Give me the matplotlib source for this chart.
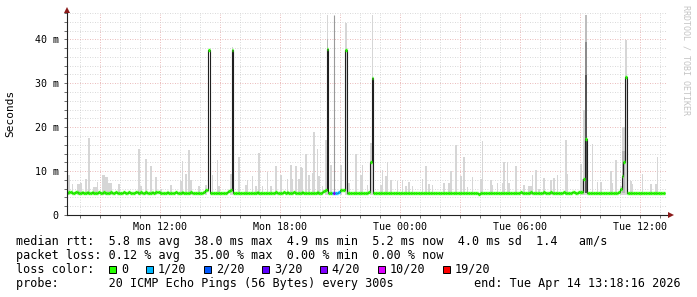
import matplotlib
matplotlib.use("Agg")
import matplotlib.pyplot as plt
from matplotlib.patches import Rectangle
from matplotlib.ticker import MultipleLocator, FixedLocator, FuncFormatter
import numpy as np

# 5 minute steps, time axis in hours counted from Monday 00:00
start_hour = 7 + 20 / 60
step_hours = 5 / 60

# median rtt per step (ms)
median_ms = [
    5.1, 5.2, 5.2, 5.1, 5.0, 5.2, 5.2, 5.1, 5.1, 5.2, 5.0, 5.1,
    5.2, 5.1, 5.1, 5.2, 5.0, 4.9, 5.1, 5.2, 5.1, 5.1, 5.2, 5.1,
    5.1, 5.0, 5.2, 5.1, 5.1, 5.2, 5.1, 5.1, 5.0, 5.1, 5.2, 5.1,
    5.1, 5.2, 5.0, 5.1, 5.1, 5.2, 5.2, 5.1, 5.3, 5.1, 5.1, 5.2,
    5.1, 5.0, 5.1, 5.2, 5.1, 5.3, 5.3, 5.2, 5.1, 5.1, 5.0, 5.1,
    5.2, 5.1, 5.1, 5.0, 5.1, 5.2, 5.1, 5.0, 5.1, 5.2, 5.1, 5.1,
    5.0, 5.1, 5.2, 5.1, 5.1, 5.0, 4.9, 4.9, 5.0, 5.1, 5.3, 5.6,
    5.8, 37.6, 5.1, 5.0, 4.9, 5.0, 5.0, 5.1, 5.0, 5.0, 5.0, 5.1,
    5.2, 5.5, 5.8, 37.6, 5.0, 5.0, 5.1, 5.0, 5.0, 5.1, 5.0, 4.9,
    5.1, 5.0, 5.1, 5.1, 5.0, 5.1, 5.2, 5.1, 5.0, 5.1, 5.1, 5.0,
    5.1, 5.0, 5.1, 5.1, 5.0, 5.2, 5.1, 5.1, 5.0, 5.1, 5.2, 5.1,
    5.2, 5.1, 5.0, 5.1, 5.2, 5.1, 5.1, 5.0, 5.1, 5.2, 5.1, 5.1,
    5.0, 5.1, 5.1, 4.9, 5.0, 5.1, 5.2, 5.1, 5.1, 5.2, 5.4, 5.8,
    37.8, 5.1, 5.1, 5.1, 5.1, 5.1, 5.1, 5.2, 5.6, 5.8, 5.8, 37.6,
    5.0, 5.0, 5.1, 5.1, 5.0, 5.1, 5.1, 5.0, 5.1, 5.0, 5.1, 5.0,
    5.0, 5.3, 12.0, 31.1, 5.0, 5.0, 5.1, 5.0, 5.1, 5.0, 5.1, 5.1,
    5.0, 5.1, 5.0, 5.1, 5.1, 5.0, 5.0, 5.1, 5.1, 5.0, 5.1, 5.1,
    5.1, 5.0, 5.1, 5.1, 5.0, 5.1, 5.1, 4.9, 5.0, 5.1, 5.0, 5.1,
    5.1, 5.0, 5.1, 5.1, 5.0, 5.0, 5.1, 5.1, 5.0, 5.1, 5.0, 5.1,
    5.1, 5.0, 5.1, 5.0, 5.1, 5.1, 5.0, 5.1, 5.1, 5.0, 5.0, 5.1,
    5.1, 5.0, 5.1, 5.1, 5.0, 5.0, 5.0, 4.8, 5.0, 5.1, 5.0, 5.1,
    5.1, 5.0, 5.0, 5.1, 5.0, 5.1, 5.1, 5.0, 5.1, 5.1, 5.0, 5.1,
    5.0, 5.1, 5.1, 5.0, 5.0, 5.1, 5.1, 5.1, 5.2, 5.1, 5.1, 5.0,
    5.1, 5.1, 5.2, 5.1, 5.1, 5.1, 5.1, 5.0, 5.1, 5.1, 5.2, 5.1,
    5.1, 5.1, 5.2, 5.1, 5.1, 5.0, 5.0, 5.1, 5.1, 5.1, 5.2, 5.1,
    5.1, 5.1, 5.1, 5.2, 5.2, 5.1, 5.1, 5.2, 5.2, 5.3, 8.2, 17.3,
    5.1, 5.1, 5.0, 4.9, 5.1, 5.1, 5.0, 5.1, 5.1, 4.9, 5.1, 5.1,
    5.1, 5.0, 5.1, 5.1, 5.0, 5.1, 5.1, 5.3, 6.0, 8.8, 12.0, 31.4,
    5.1, 5.1, 5.1, 5.0, 5.1, 5.1, 5.0, 5.1, 5.1, 5.1, 5.0, 5.1,
    5.1, 5.1, 5.1, 5.1, 5.0, 5.1, 5.1, 5.1, 5.1, 5.1, 5.1,
]

# lost pings (out of 20) on the few steps that had any
loss_steps = [159, 160, 161, 162, 163]
loss_counts = [1, 7, 1, 1, 1]

# smoke: highest ping per step where it stands out above the median
smoke_steps = [
    1, 3, 6, 7, 8, 11, 13, 16, 17, 18, 21, 22, 23, 24, 25, 26, 31, 43, 44, 47,
    50, 53, 56, 62, 68, 69, 71, 73, 74, 79, 83, 87, 90, 91, 98, 99, 103, 107,
    108, 111, 113, 115, 117, 120, 122, 125, 128, 132, 134, 135, 137, 139, 140,
    141, 143, 145, 147, 148, 150, 151, 153, 155, 156, 158, 164, 167, 168, 169,
    173, 176, 177, 180, 182, 183, 188, 189, 191, 192, 194, 198, 201, 203, 205,
    207, 213, 215, 217, 219, 226, 229, 230, 233, 236, 238, 240, 243, 248, 249,
    254, 255, 258, 261, 262, 264, 265, 269, 274, 277, 278, 279, 281, 283, 286,
    290, 292, 294, 299, 300, 308, 309, 310, 311, 315, 318, 320, 326, 327, 329,
    332, 333, 334, 335, 338, 339, 345, 350, 353, 354,
]
smoke_top_ms = [
    9.0, 7.1, 7.0, 7.1, 7.2, 8.2, 17.5, 6.4, 6.4, 7.5, 9.2, 9.0, 8.6, 8.6, 7.3,
    7.3, 7.1, 15.1, 6.5, 12.8, 11.2, 8.6, 5.9, 6.9, 7.7, 12.3, 9.4, 14.8, 7.9,
    6.7, 6.9, 9.0, 12.6, 6.5, 9.4, 38.2, 13.3, 6.9, 8.0, 8.8, 6.5, 14.1, 6.7,
    9.9, 6.5, 11.1, 9.0, 8.3, 11.4, 8.3, 11.2, 8.2, 10.9, 10.7, 13.9, 9.0, 9.5,
    18.8, 15.0, 8.8, 6.5, 17.1, 45.5, 11.4, 11.4, 43.8, 11.2, 7.3, 13.9, 9.0,
    11.4, 6.9, 16.4, 45.5, 6.9, 10.3, 8.8, 12.0, 7.9, 7.8, 7.9, 6.7, 7.5, 6.5,
    8.2, 11.1, 7.1, 6.9, 7.4, 7.4, 10.1, 16.0, 8.8, 13.3, 6.3, 8.6, 8.3, 16.9,
    7.9, 6.9, 7.3, 7.4, 12.0, 12.0, 7.3, 11.1, 6.9, 6.7, 6.7, 9.2, 10.3, 5.9,
    8.4, 8.0, 8.4, 9.0, 17.1, 9.4, 11.7, 8.2, 23.9, 45.5, 16.2, 7.6, 7.5, 10.1,
    7.4, 12.6, 6.5, 20.1, 20.1, 39.8, 7.7, 7.1, 9.4, 7.1, 7.1, 13.1,
]
smoke_floor_ms = 4.6

# denser smoke bands (step, bottom, top, shade)
dense_steps = [156, 311, 311, 311, 333, 334]
dense_bottom_ms = [37.8, 5.0, 5.0, 5.0, 5.0, 5.0]
dense_top_ms = [40.0, 45.5, 39.4, 31.8, 14.6, 14.6]
dense_shades = ["#b8b8b8", "#bdbdbd", "#8c8c8c", "#555555", "#b8b8b8", "#b8b8b8"]

# single thin smoke line on the lossy step
lossy_smoke_step = 160
lossy_smoke_top_ms = 45.5

tick_hours = [9, 12, 15, 18, 21, 24, 27, 30, 33, 36]
tick_labels = ["", "Mon 12:00", "", "Mon 18:00", "", "Tue 00:00", "", "Tue 06:00", "", "Tue 12:00"]

loss_legend_labels = ["0", "1/20", "2/20", "3/20", "4/20", "10/20", "19/20"]
loss_legend_limits = [0, 1, 2, 3, 4, 10, 19]
loss_legend_colors = ["#26ff00", "#00b8ff", "#0059ff", "#5e00ff", "#7e00ff", "#dd00ff", "#ff0000"]

W, H = 697, 297
MONO = "DejaVu Sans Mono"


def loss_color(count):
    idx = 0
    for k, lim in enumerate(loss_legend_limits):
        if count >= lim:
            idx = k
    return loss_legend_colors[idx]


def fx(px):
    return px / W


def fy(py):
    return 1 - py / H


median = np.array(median_ms)
edges = start_hour + step_hours * np.arange(len(median) + 1)
seg_colors = [loss_legend_colors[0]] * len(median)
for s, c in zip(loss_steps, loss_counts):
    seg_colors[s] = loss_color(c)

fig = plt.figure(figsize=(W / 100, H / 100), dpi=100)
ax = fig.add_axes([fx(67), fy(215), 600 / W, 202 / H])

# smoke
tops = np.array(smoke_top_ms)
ax.bar(edges[smoke_steps], tops - smoke_floor_ms, bottom=smoke_floor_ms,
       width=step_hours, align="edge", color="#d6d6d6", linewidth=0, zorder=2)
for s, b, t, c in zip(dense_steps, dense_bottom_ms, dense_top_ms, dense_shades):
    ax.bar(edges[s], t - b, bottom=b, width=step_hours, align="edge",
           color=c, linewidth=0, zorder=2)
ax.vlines(edges[lossy_smoke_step] + step_hours / 2, 5.0, lossy_smoke_top_ms,
          color="#9a9a9a", lw=0.8, zorder=2)

# median line: dark stairs, then loss-coloured segments on top
ax.stairs(median, edges, baseline=None, color="#202020", lw=0.8, zorder=4)
ax.hlines(median, edges[:-1], edges[1:], colors=seg_colors, lw=2.4,
          zorder=5, capstyle="butt")

ax.set_xlim(7.35, 37.35)
ax.set_ylim(0, 46)

ax.xaxis.set_major_locator(FixedLocator(tick_hours))
ax.set_xticklabels(tick_labels)
ax.xaxis.set_minor_locator(MultipleLocator(1))
ax.yaxis.set_major_locator(MultipleLocator(10))
ax.yaxis.set_minor_locator(MultipleLocator(2))
ax.yaxis.set_major_formatter(FuncFormatter(lambda v, p: "0" if v == 0 else f"{v:.0f} m"))

ax.set_axisbelow(True)
ax.grid(which="minor", color="#cccccc", linestyle=(0, (1, 2)), lw=0.6)
ax.grid(which="major", color="#e3a3a3", linestyle=(0, (1, 2)), lw=0.6)

for side in ["top", "right"]:
    ax.spines[side].set_visible(False)
for side in ["left", "bottom"]:
    ax.spines[side].set_color("#222222")
    ax.spines[side].set_linewidth(0.8)
    ax.spines[side].set_zorder(6)

ax.tick_params(which="both", length=2, width=0.6, color="#555555")
ax.tick_params(axis="x", pad=3, labelsize=7.2)
ax.tick_params(axis="y", pad=4, labelsize=7.2)
for lab in ax.get_xticklabels() + ax.get_yticklabels():
    lab.set_family(MONO)

# axis arrows
ax.plot(0, 1 + 3 / 202, marker="^", color="#8b1a1a", ms=4, mew=0,
        transform=ax.transAxes, clip_on=False, zorder=7)
ax.plot(1 + 4 / 600, 0, marker=">", color="#8b1a1a", ms=4, mew=0,
        transform=ax.transAxes, clip_on=False, zorder=7)

fig.text(fx(10), fy(113), "Seconds", rotation=90, ha="center", va="center",
         family=MONO, fontsize=8)
fig.text(fx(686), fy(60), "RRDTOOL / TOBI OETIKER", rotation=270, ha="center",
         va="center", family=MONO, fontsize=6, color="#c4c4c4")

# legend lines
rows = [
    "median rtt:  5.8 ms avg  38.0 ms max  4.9 ms min  5.2 ms now  4.0 ms sd  1.4   am/s",
    "packet loss: 0.12 % avg  35.00 % max  0.00 % min  0.00 % now",
    "loss color:",
    "probe:       20 ICMP Echo Pings (56 Bytes) every 300s",
]
row_baselines = [245, 259, 273, 287]
for text, yb in zip(rows, row_baselines):
    fig.text(fx(16), fy(yb), text, family=MONO, fontsize=8.5, va="baseline")
fig.text(fx(681), fy(287), "end: Tue Apr 14 13:18:16 2026", family=MONO,
         fontsize=8.5, va="baseline", ha="right")

square_x = [109, 146, 204, 262, 319.5, 378, 443]
for x, lab, col in zip(square_x, loss_legend_labels, loss_legend_colors):
    fig.add_artist(Rectangle((fx(x), fy(273)), 7 / W, 7 / H, transform=fig.transFigure,
                             facecolor=col, edgecolor="#000000", lw=0.7))
    fig.text(fx(x + 12), fy(273), lab, family=MONO, fontsize=8.5, va="baseline")

fig.savefig("out.png", dpi=100)
